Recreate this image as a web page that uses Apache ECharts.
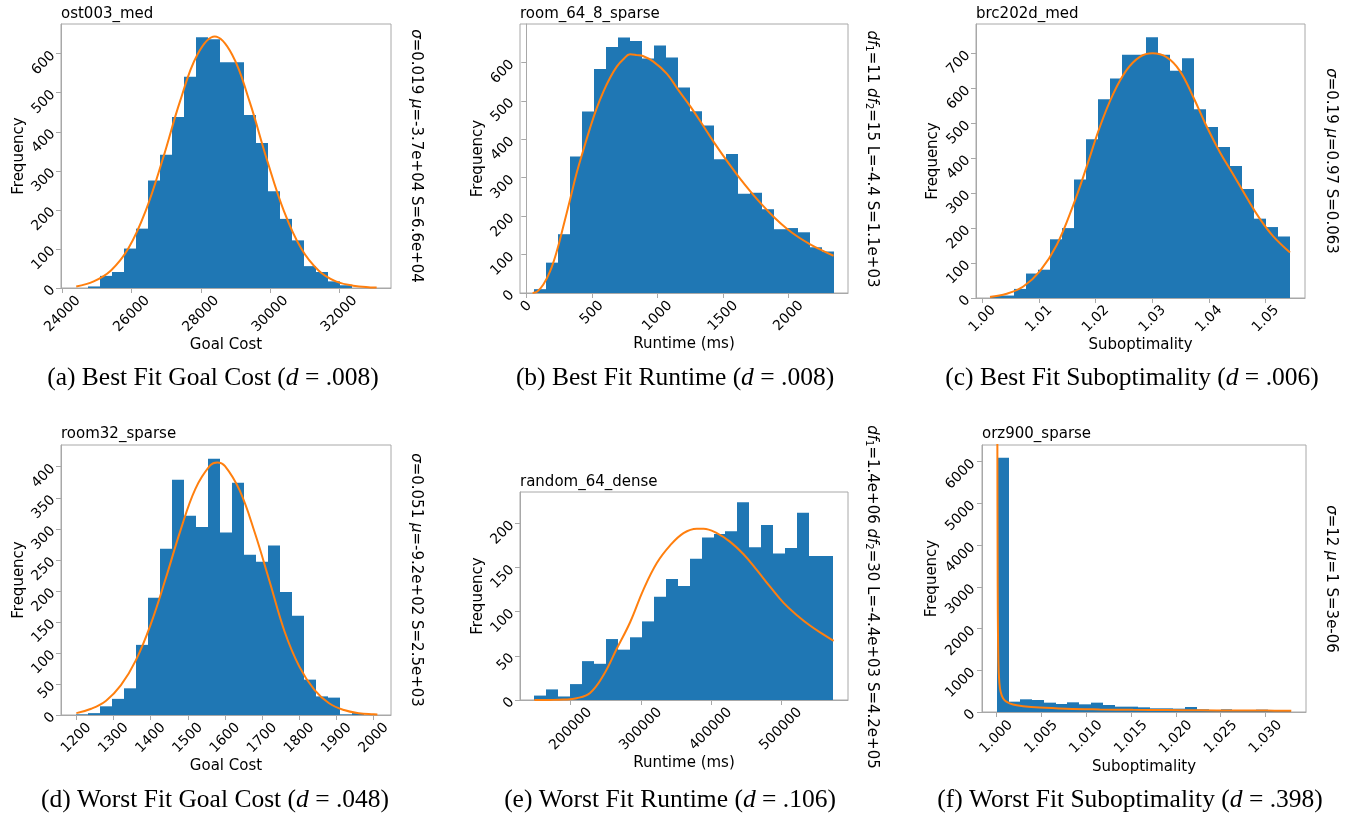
<!DOCTYPE html>
<html>
<head>
<meta charset="utf-8">
<script src="https://cdn.jsdelivr.net/npm/echarts@6/dist/echarts.min.js"></script>
<style>
  html, body { margin: 0; padding: 0; background: #ffffff; }
  #chart { width: 1355px; height: 813px; }
</style>
</head>
<body>
<div id="chart"></div>
<script>
// ---------- (a) ost003_med : goal cost, best fit ----------
const aBinRange = [24742, 32376];
const aCounts = [4, 31, 41, 101, 152, 275, 341, 438, 541, 642, 637, 578, 578, 443, 371, 248, 177, 122, 56, 41, 17, 7];
const aFitX = [24395, 24900, 25400, 25900, 26400, 26900, 27400, 27900, 28400, 28900, 29400, 29900, 30400, 30900, 31400, 31900, 32400, 32900, 33080];
const aFitY = [4, 17, 45, 101, 197, 331, 479, 598, 644, 598, 479, 331, 197, 101, 45, 17, 6, 1.5, 1];
const aXTicks = [24000, 26000, 28000, 30000, 32000];
const aYTicks = [0, 100, 200, 300, 400, 500, 600];

// ---------- (b) room_64_8_sparse : runtime, best fit ----------
const bBinRange = [61, 2343];
const bCounts = [10, 79, 153, 355, 472, 583, 640, 665, 656, 610, 644, 613, 535, 473, 436, 348, 362, 258, 261, 218, 166, 169, 158, 119, 108];
const bFitX = [48, 84, 130, 181, 232, 282, 333, 384, 435, 486, 537, 588, 639, 690, 740, 791, 842, 893, 969, 1071, 1160, 1252, 1344, 1435, 1527, 1618, 1710, 1802, 1893, 1985, 2076, 2168, 2254, 2343];
const bFitY = [0, 4, 22, 56, 108, 173, 242, 312, 372, 429, 481, 524, 560, 589, 608, 621, 619, 616, 602, 571, 528, 485, 438, 390, 345, 303, 264, 228, 196, 168, 145, 126, 111, 97];
const bXTicks = [0, 500, 1000, 1500, 2000];
const bYTicks = [0, 100, 200, 300, 400, 500, 600];

// ---------- (c) brc202d_med : suboptimality, best fit ----------
const cBinRange = [1.00135, 1.05423];
const cCounts = [6, 7, 26, 70, 81, 168, 200, 339, 454, 569, 628, 696, 696, 746, 696, 650, 686, 540, 489, 432, 378, 312, 227, 203, 176];
const cFitX = [1.00135, 1.00429, 1.00723, 1.01016, 1.01310, 1.01604, 1.01839, 1.02074, 1.02309, 1.02544, 1.02779, 1.03002, 1.03249, 1.03484, 1.03719, 1.03954, 1.04189, 1.04424, 1.04659, 1.04894, 1.05129, 1.05429];
const cFitY = [3, 12, 33, 77, 151, 266, 375, 490, 584, 652, 690, 700, 689, 650, 576, 492, 418, 354, 289, 227, 177, 130];
const cXTicks = [1.00, 1.01, 1.02, 1.03, 1.04, 1.05];
const cYTicks = [0, 100, 200, 300, 400, 500, 600, 700];

// ---------- (d) room32_sparse : goal cost, worst fit ----------
const dBinRange = [1200, 1975];
const dCounts = [1, 3, 14, 26, 43, 113, 189, 268, 379, 321, 303, 413, 294, 374, 258, 247, 273, 198, 160, 57, 30, 28, 1, 3];
const dFitX = [1200, 1240, 1280, 1320, 1360, 1400, 1440, 1480, 1520, 1560, 1579, 1600, 1640, 1680, 1720, 1760, 1800, 1840, 1880, 1920, 1960, 2000, 2010];
const dFitY = [3, 10, 23, 48, 88, 146, 219, 297, 364, 402, 407, 401, 361, 294, 215, 135, 78, 41, 19, 8, 3, 1.2, 1];
const dXTicks = [1200, 1300, 1400, 1500, 1600, 1700, 1800, 1900, 2000];
const dYTicks = [0, 50, 100, 150, 200, 250, 300, 350, 400];

// ---------- (e) random_64_dense : runtime, worst fit ----------
const eBinRange = [148095, 574286];
const eCounts = [5, 12, 4, 18, 44, 41, 69, 57, 71, 89, 117, 137, 129, 160, 184, 188, 191, 224, 173, 198, 166, 172, 212, 163, 163];
const eFitX = [148095, 170476, 189524, 208571, 227619, 246667, 265714, 284762, 303810, 322857, 341905, 360952, 380000, 389524, 408571, 427619, 446667, 465714, 484762, 503810, 522857, 541905, 560952, 575238];
const eFitY = [0, 0.1, 0.5, 2, 8, 28, 58, 88, 125, 155, 175, 189, 194, 194, 189, 179, 165, 147, 128, 110, 96, 84, 74, 67];
const eXTicks = [200000, 300000, 400000, 500000];
const eYTicks = [0, 50, 100, 150, 200];

// ---------- (f) orz900_sparse : suboptimality, worst fit ----------
const fBinRange = [1.00004, 1.03286];
const fCounts = [6096, 248, 304, 288, 224, 192, 232, 184, 224, 168, 128, 128, 112, 88, 88, 80, 120, 64, 48, 64, 40, 40, 56, 48, 32];
const fFitX = [1.000093, 1.000149, 1.000223, 1.000335, 1.000483, 1.000743, 1.001115, 1.001859, 1.002974, 1.004833, 1.007807, 1.011524, 1.015242, 1.018959, 1.022677, 1.026394, 1.030112, 1.032862];
const fFitY = [9000, 3000, 1200, 700, 480, 330, 250, 180, 140, 105, 78, 62, 52, 45, 40, 36, 33, 31];
const fXTicks = [1.000, 1.005, 1.010, 1.015, 1.020, 1.025, 1.030];
const fYTicks = [0, 1000, 2000, 3000, 4000, 5000, 6000];

// ---------- text ----------
const titles = ['ost003_med', 'room_64_8_sparse', 'brc202d_med', 'room32_sparse', 'random_64_dense', 'orz900_sparse'];
const xNames = ['Goal Cost', 'Runtime (ms)', 'Suboptimality', 'Goal Cost', 'Runtime (ms)', 'Suboptimality'];
const xDecimals = [0, 0, 2, 0, 0, 3];
const fitParams = [
  '{i|σ}{n|=0.019 }{i|μ}{n|=-3.7e+04 S=6.6e+04}',
  '{i|df}{s|1}{n|=11 }{i|df}{s|2}{n|=15 L=-4.4 S=1.1e+03}',
  '{i|σ}{n|=0.19 }{i|μ}{n|=0.97 S=0.063}',
  '{i|σ}{n|=0.051 }{i|μ}{n|=-9.2e+02 S=2.5e+03}',
  '{i|df}{s|1}{n|=1.4e+06 }{i|df}{s|2}{n|=30 L=-4.4e+03 S=4.2e+05}',
  '{i|σ}{n|=12 }{i|μ}{n|=1 S=3e-06}'
];
const captions = [
  ['(a) Best Fit Goal Cost (', '.008)'],
  ['(b) Best Fit Runtime (', '.008)'],
  ['(c) Best Fit Suboptimality (', '.006)'],
  ['(d) Worst Fit Goal Cost (', '.048)'],
  ['(e) Worst Fit Runtime (', '.106)'],
  ['(f) Worst Fit Suboptimality (', '.398)']
];

const panels = [
  { range: aBinRange, counts: aCounts, fitX: aFitX, fitY: aFitY, xTicks: aXTicks, yTicks: aYTicks },
  { range: bBinRange, counts: bCounts, fitX: bFitX, fitY: bFitY, xTicks: bXTicks, yTicks: bYTicks },
  { range: cBinRange, counts: cCounts, fitX: cFitX, fitY: cFitY, xTicks: cXTicks, yTicks: cYTicks },
  { range: dBinRange, counts: dCounts, fitX: dFitX, fitY: dFitY, xTicks: dXTicks, yTicks: dYTicks },
  { range: eBinRange, counts: eCounts, fitX: eFitX, fitY: eFitY, xTicks: eXTicks, yTicks: eYTicks },
  { range: fBinRange, counts: fCounts, fitX: fFitX, fitY: fFitY, xTicks: fXTicks, yTicks: fYTicks }
];

// ---------- layout ----------
const layouts = [
  { left: 61,  top: 24,  width: 330, height: 264, xMin: 23955,   xMax: 33495,   yMax: 676,  xGap: 49, yGap: 34, xMargin: 26, yMargin: 8, titleY: 14,  noteX: 417,  noteY: 156, capX: 213,  capY: 378 },
  { left: 520, top: 24,  width: 328, height: 269, xMin: -48,     xMax: 2453,    yMax: 700,  xGap: 42, yGap: 34, xMargin: 23, yMargin: 8, titleY: 14,  noteX: 873,  noteY: 159, capX: 675,  capY: 378 },
  { left: 976, top: 24,  width: 329, height: 274, xMin: 0.99888, xMax: 1.05693, yMax: 784,  xGap: 39, yGap: 35, xMargin: 21, yMargin: 8, titleY: 14,  noteX: 1332, noteY: 161, capX: 1132, capY: 378 },
  { left: 61,  top: 445, width: 330, height: 270, xMin: 1158.7,  xMax: 2046.6,  yMax: 435,  xGap: 43, yGap: 34, xMargin: 23, yMargin: 8, titleY: 434, noteX: 417,  noteY: 580, capX: 215,  capY: 800 },
  { left: 520, top: 492, width: 328, height: 208, xMin: 127619,  xMax: 595714,  yMax: 235.5,xGap: 56, yGap: 34, xMargin: 29, yMargin: 8, titleY: 482, noteX: 873,  noteY: 597, capX: 670,  capY: 800 },
  { left: 982, top: 445, width: 324, height: 267, xMin: 0.9984,  xMax: 1.0345,  yMax: 6400, xGap: 47, yGap: 42, xMargin: 25, yMargin: 9, titleY: 434, noteX: 1332, noteY: 579, capX: 1130, capY: 800 }
];

const BAR_BLUE = '#1f77b4';
const FIT_ORANGE = '#ff7f0e';
const FRAME = '#a8a8a8';
const SANS = '"DejaVu Sans", "Liberation Sans", sans-serif';
const SERIF = '"Liberation Serif", "DejaVu Serif", serif';
const TICK_SIZE = 14;
const DIGIT_W = TICK_SIZE * 0.636;
const CAPTION_SIZE = 25.5;

function renderBin(params, api) {
  const topLeft = api.coord([api.value(0), api.value(2)]);
  const bottomRight = api.coord([api.value(1), 0]);
  const x0 = Math.round(topLeft[0]);
  const x1 = Math.round(bottomRight[0]);
  return {
    type: 'rect',
    shape: { x: x0, y: topLeft[1], width: x1 - x0, height: bottomRight[1] - topLeft[1] },
    style: { fill: BAR_BLUE }
  };
}

const option = {
  animation: false,
  backgroundColor: '#ffffff',
  grid: [], xAxis: [], yAxis: [], series: [], graphic: []
};

panels.forEach((p, i) => {
  const L = layouts[i];
  const dec = xDecimals[i];
  const labels = p.xTicks.map(v => v.toFixed(dec));
  const maxLen = Math.max(...labels.map(s => s.length));
  const rich = {};
  labels.forEach(s => {
    const k = maxLen - s.length;
    const pad = 0.5 * k * DIGIT_W;
    rich['p' + k] = { fontFamily: SANS, fontSize: TICK_SIZE, color: '#000', padding: [0, 0, pad, pad] };
  });

  option.grid.push({
    left: L.left, top: L.top, width: L.width, height: L.height,
    show: true, borderColor: FRAME, borderWidth: 1, backgroundColor: 'transparent'
  });

  option.xAxis.push({
    type: 'value', gridIndex: i, min: L.xMin, max: L.xMax,
    splitLine: { show: false },
    axisLine: { show: true, onZero: false, lineStyle: { color: FRAME, width: 1 } },
    axisTick: { show: true, length: 5, lineStyle: { color: FRAME }, customValues: p.xTicks },
    axisLabel: {
      customValues: p.xTicks, rotate: 45, align: 'center', verticalAlign: 'middle',
      margin: L.xMargin, fontFamily: SANS, fontSize: TICK_SIZE, color: '#000',
      formatter: function (v) {
        let best = 0;
        p.xTicks.forEach((t, k) => { if (Math.abs(t - v) < Math.abs(p.xTicks[best] - v)) best = k; });
        const s = labels[best];
        return '{p' + (maxLen - s.length) + '|' + s + '}';
      },
      rich: rich
    },
    name: xNames[i], nameLocation: 'middle', nameGap: L.xGap,
    nameTextStyle: { fontFamily: SANS, fontSize: 15, color: '#000' }
  });

  option.yAxis.push({
    type: 'value', gridIndex: i, min: 0, max: L.yMax,
    splitLine: { show: false },
    axisLine: { show: true, lineStyle: { color: FRAME, width: 1 } },
    axisTick: { show: true, length: 5, lineStyle: { color: FRAME }, customValues: p.yTicks },
    axisLabel: {
      customValues: p.yTicks, rotate: 45, margin: L.yMargin,
      fontFamily: SANS, fontSize: TICK_SIZE, color: '#000',
      formatter: v => String(Math.round(v))
    },
    name: 'Frequency', nameLocation: 'middle', nameGap: L.yGap, nameRotate: 90,
    nameTextStyle: { fontFamily: SANS, fontSize: 15, color: '#000' }
  });

  const n = p.counts.length;
  const w = (p.range[1] - p.range[0]) / n;
  option.series.push({
    type: 'custom', xAxisIndex: i, yAxisIndex: i, silent: true, clip: true,
    renderItem: renderBin,
    encode: { x: [0, 1], y: 2 },
    data: p.counts.map((c, k) => [p.range[0] + k * w, p.range[0] + (k + 1) * w, c]),
    z: 2
  });

  option.series.push({
    type: 'line', xAxisIndex: i, yAxisIndex: i, silent: true, clip: true,
    data: p.fitX.map((x, k) => [x, p.fitY[k]]),
    showSymbol: false, symbol: 'none',
    smooth: 0.4,
    lineStyle: { color: FIT_ORANGE, width: 2 },
    itemStyle: { color: FIT_ORANGE },
    z: 3
  });

  // panel title above the frame
  option.graphic.push({
    type: 'text', x: L.left, y: L.titleY, silent: true,
    style: {
      text: titles[i], font: '15px ' + SANS, fill: '#000',
      align: 'left', verticalAlign: 'middle', textAlign: 'left', textVerticalAlign: 'middle'
    }
  });

  // fitted distribution parameters, rotated along the right side
  option.graphic.push({
    type: 'text', x: L.noteX, y: L.noteY, rotation: -Math.PI / 2, silent: true,
    style: {
      text: fitParams[i],
      align: 'center', verticalAlign: 'middle', textAlign: 'center', textVerticalAlign: 'middle',
      fill: '#000',
      rich: {
        n: { fontFamily: SANS, fontSize: 15, color: '#000', lineHeight: 18, verticalAlign: 'bottom' },
        i: { fontFamily: SANS, fontSize: 15, fontStyle: 'italic', color: '#000', lineHeight: 18, verticalAlign: 'bottom' },
        s: { fontFamily: SANS, fontSize: 10, color: '#000', lineHeight: 12, verticalAlign: 'bottom' }
      }
    }
  });

  // sub-figure caption
  option.graphic.push({
    type: 'text', x: L.capX, y: L.capY, silent: true,
    style: {
      text: '{n|' + captions[i][0] + '}{i|d}{n| = ' + captions[i][1] + '}',
      align: 'center', verticalAlign: 'middle', textAlign: 'center', textVerticalAlign: 'middle',
      fill: '#000',
      rich: {
        n: { fontFamily: SERIF, fontSize: CAPTION_SIZE, color: '#000' },
        i: { fontFamily: SERIF, fontSize: CAPTION_SIZE, fontStyle: 'italic', color: '#000' }
      }
    }
  });
});

const chart = echarts.init(document.getElementById('chart'), null, { renderer: 'canvas' });
chart.setOption(option);
</script>
</body>
</html>
